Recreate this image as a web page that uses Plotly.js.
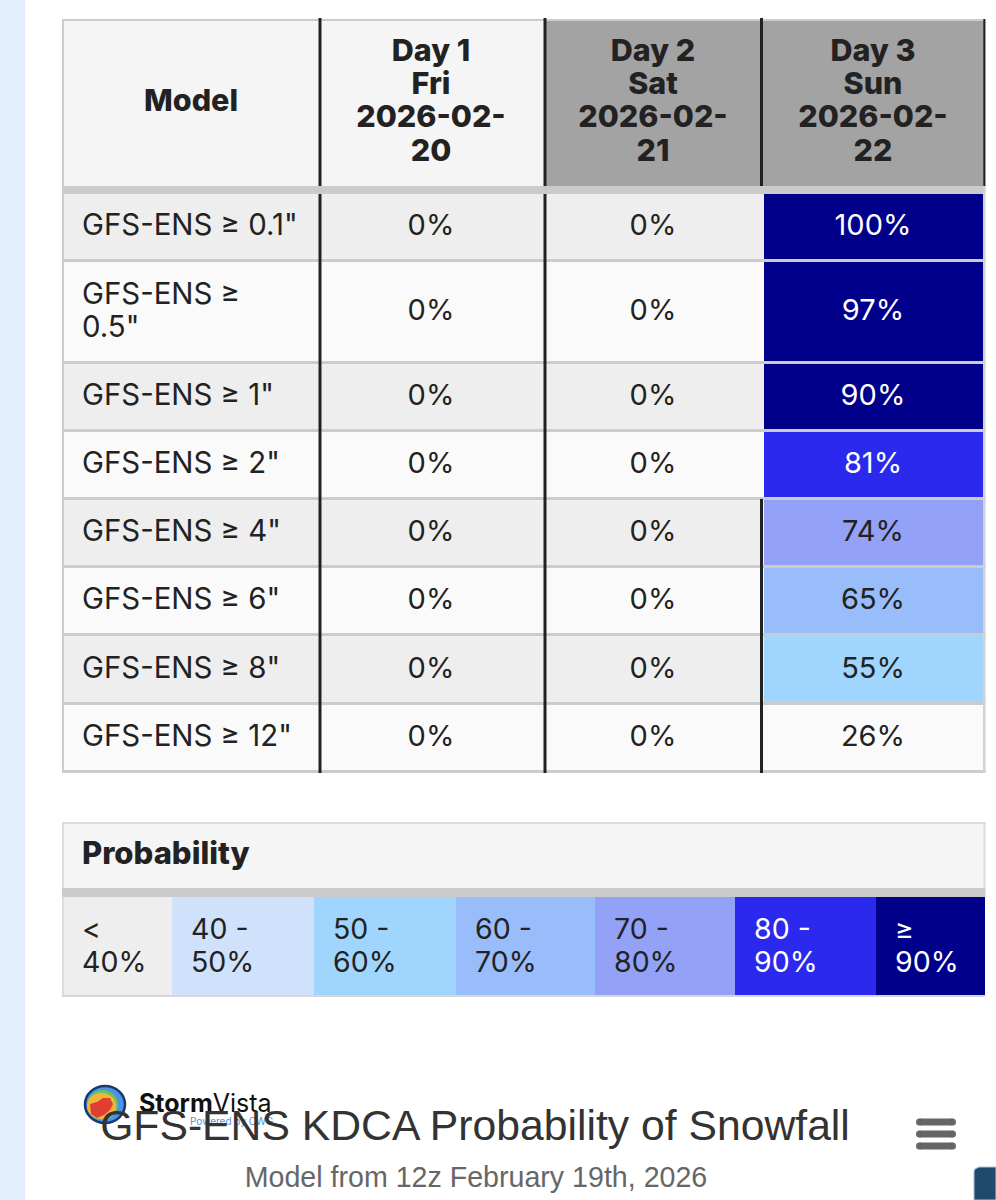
<!DOCTYPE html>
<html><head><meta charset="utf-8">
<script src="https://cdn.plot.ly/plotly-3.0.1.min.js"></script>
<style>html,body{margin:0;padding:0;background:#fff;overflow:hidden}</style>
</head><body><div id="chart" style="width:996px;height:1200px"></div>
<script>
// ---- data ----
const modelLabels = [['GFS-ENS ≥ 0.1"'],['GFS-ENS ≥','0.5"'],['GFS-ENS ≥ 1"'],['GFS-ENS ≥ 2"'],['GFS-ENS ≥ 4"'],['GFS-ENS ≥ 6"'],['GFS-ENS ≥ 8"'],['GFS-ENS ≥ 12"']];
const day1Values = [0,0,0,0,0,0,0,0];
const day2Values = [0,0,0,0,0,0,0,0];
const day3Values = [100,97,90,81,74,65,55,26];
const headerLabels = [['Model'],['Day 1','Fri','2026-02-','20'],['Day 2','Sat','2026-02-','21'],['Day 3','Sun','2026-02-','22']];
const legendTitle = 'Probability';
const legendLabels = [['<','40%'],['40 -','50%'],['50 -','60%'],['60 -','70%'],['70 -','80%'],['80 -','90%'],['≥','90%']];
const legendSamples = [0,45,55,65,75,85,95];
const binStops = [0,40,50,60,70,80,90,100];
const binColors = ['rgba(0,0,0,0)','#cfe1fb','#a0d6fd','#99bcfa','#93a1f7','#2b29ee','#00008b'];
const chartTitle = 'GFS-ENS KDCA Probability of Snowfall';
const chartSubtitle = 'Model from 12z February 19th, 2026';

// ---- page geometry (pixel-scaled axes) ----
const L=62, R=985.5, colX=[320,545,761.5], rowEdges=[194,262,364,432,500,568,636,705,773];
const hTop=19, hBot=186, cellCols=[322,547,764,983], cols=[191,431,653,873];
const lgTop=822, lgHBot=888, lgCellTop=897, lgBot=997, lgEdges=[62,172,314,456,595,735,876,985];
const ink='#222222', grid='#cccccc', bold='Inter, "Noto Sans", sans-serif', arial='"Liberation Sans", Arial, sans-serif';

const colorscale=[];
binColors.forEach((c,i)=>{colorscale.push([binStops[i]/100,c]);colorscale.push([binStops[i+1]/100,c]);});

const rowCenters=rowEdges.slice(0,-1).map((y,i)=>(y+rowEdges[i+1]-3)/2);
const shapes=[];
const rect=(x0,y0,x1,y1,fill,layer)=>shapes.push({type:'rect',xref:'x',yref:'y',x0,y0,x1,y1,fillcolor:fill,line:{width:0},layer:layer||'below'});
// page strip
rect(0,0,25,1200,'#e3effd');
// header
rect(L,hTop,R,hBot,'#f5f5f5');
rect(colX[1],hTop,R,hBot,'#a3a3a3');
rect(L,hTop,R,hTop+2,grid,'above');
// rows
rowEdges.slice(0,-1).forEach((y,i)=>rect(L,y,R,rowEdges[i+1],i%2?'#fafafa':'#eeeeee'));
// row rules
rowEdges.slice(1).forEach(y=>rect(L,y-3,R,y,grid,'above'));
rect(L,hBot,R,rowEdges[0],'#cbcbcb','above');
rect(L,hTop,L+2,773,grid,'above');
rect(983,hBot,R,773,'#d2d2dc','above');
// dark column rules
const dark=(x,y0,y1,w)=>rect(x-(w||3)/2,y0,x+(w||3)/2,y1,ink,'above');
colX.forEach(x=>dark(x,hTop-1,hBot));
dark(984.3,hTop,hBot,2);
dark(colX[0],rowEdges[0],773);
dark(colX[1],rowEdges[0],773);
dark(colX[2],rowEdges[4]-1,773);
// legend frame
rect(L,lgTop,R,lgHBot,'#f5f5f5');
rect(L,lgTop,R,lgTop+2,'#dddddd','above');
rect(L,lgTop,L+2,lgBot,'#dddddd','above');
rect(R-2,lgTop,R,lgHBot,'#dddddd','above');
rect(L,lgHBot,R,lgCellTop,'#cbcbcb','above');
rect(L,lgCellTop,172,lgBot,'#eeeeee');
rect(L,lgBot-2,R,lgBot,'#d6d6d6','above');
// logo
const circ=(x0,y0,x1,y1,fill,lc,lw)=>shapes.push({type:'circle',xref:'x',yref:'y',x0,y0,x1,y1,fillcolor:fill,line:{color:lc||fill,width:lw||0},layer:'above'});
const poly=(pts,fill)=>shapes.push({type:'path',xref:'x',yref:'y',path:'M'+pts.map(p=>p.join(' ')).join(' L')+' Z',fillcolor:fill,line:{width:0},layer:'above'});
circ(85,1086,125,1123,'#4a93e6','#16396f',2.5);
circ(87,1090,118,1120,'#6fc25a');
circ(87,1093,116,1119,'#f2b53c');
poly([[90,1104],[97,1102],[103,1098],[110,1098],[113,1104],[110,1110],[104,1115],[97,1118],[91,1114]],'#df3f30');
// menu glyph
const menuYs=[1122,1134,1146];
menuYs.forEach(y=>{rect(919.5,y-3.5,952.5,y+3.5,'#666666','above');circ(916,y-3.5,923,y+3.5,'#666666');circ(949,y-3.5,956,y+3.5,'#666666');});
// corner tab
shapes.push({type:'path',xref:'x',yref:'y',path:'M974 1200 L974 1171 L975 1169 L977 1168 L979 1167 L996 1167 L996 1200 Z',fillcolor:'#1f4a6e',line:{color:'#a9c4da',width:1},layer:'above'});

// labels
const lines=(xs,ys,ts,size,color,weight,pos,family)=>({type:'scatter',mode:'text',x:xs,y:ys,text:ts,textposition:pos||'middle center',hoverinfo:'skip',showlegend:false,cliponaxis:false,
  textfont:{family:family||bold,size,color,weight}});
const hx=[],hy=[],ht=[];
headerLabels.forEach((ls,c)=>ls.forEach((t,i)=>{hx.push(cols[c]);hy.push(ls.length===1?103:53+i*33.3);ht.push(t);}));
const mx=[],my=[],mt=[];
modelLabels.forEach((ls,r)=>ls.forEach((t,i)=>{mx.push(82);my.push(rowCenters[r]+1.5+(ls.length===2?(i?16.5:-16.5):0));mt.push(t);}));
const vx=[],vy=[],vt=[],vc=[];
[day1Values,day2Values,day3Values].forEach((vals,c)=>vals.forEach((v,r)=>{vx.push(cols[c+1]);vy.push(rowCenters[r]+1.5);vt.push(v+'%');vc.push(v>=80?'#ffffff':ink);}));
const gx=[],gy=[],gt=[],gc=[];
legendLabels.forEach((ls,c)=>ls.forEach((t,i)=>{gx.push(lgEdges[c]+(c===0?20:19));gy.push(931.5+i*33);gt.push(t);gc.push(c>=5?'#ffffff':ink);}));

const data=[
 {type:'heatmap',x:cellCols,y:rowEdges,z:rowEdges.slice(0,-1).map((_,r)=>[day1Values[r],day2Values[r],day3Values[r]]),zmin:0,zmax:100,colorscale,showscale:false,hoverinfo:'skip'},
 {type:'heatmap',x:lgEdges,y:[lgCellTop,lgBot-2],z:[legendSamples],zmin:0,zmax:100,colorscale,showscale:false,hoverinfo:'skip'},
 lines(hx,hy,ht,30.5,ink,800),
 lines(mx,my,mt,29.4,ink,400,'middle right'),
 lines(vx,vy,vt,29,vc,400),
 lines(gx,gy,gt,28.5,gc,400,'middle right'),
 lines([82],[856],[legendTitle],31,ink,800,'middle right'),
 lines([139],[1106],['<b>Storm</b>Vista'],25,'#111111',400,'middle right'),
 lines([190],[1122],['Powered by CWG'],10,'#4a93e6',400,'middle right'),
 lines([476],[1180],[chartSubtitle],28.6,'#666666',400,'middle center',arial)
];

const layout={
 width:996,height:1200,margin:{l:0,r:0,t:0,b:0,pad:0},paper_bgcolor:'#ffffff',plot_bgcolor:'#ffffff',
 xaxis:{range:[0,996],visible:false,fixedrange:true},
 yaxis:{range:[1200,0],visible:false,fixedrange:true},
 showlegend:false,shapes,
 title:{text:chartTitle,x:475/996,xanchor:'center',y:1-1125/1200,yanchor:'middle',font:{family:arial,size:42.7,color:'#333333'}}
};
Plotly.newPlot('chart',data,layout,{displayModeBar:false,staticPlot:true});
</script></body></html>
